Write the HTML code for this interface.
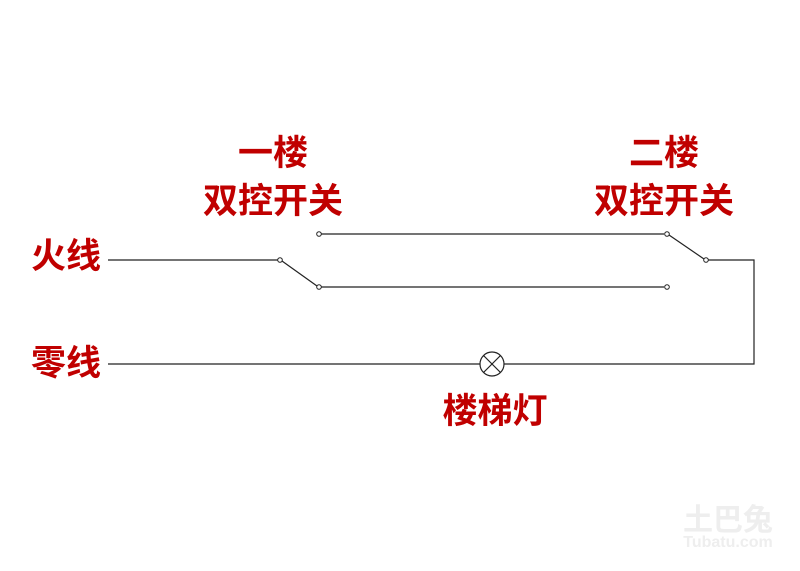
<!DOCTYPE html>
<html><head><meta charset="utf-8"><style>
body{margin:0;background:#fff}
svg text{font-family:"Liberation Sans","Noto Sans CJK SC",sans-serif;fill:#c00000;font-weight:bold;font-size:35px}
</style></head><body>
<svg width="800" height="566" xmlns="http://www.w3.org/2000/svg">
<g stroke="#222" stroke-width="1.2" fill="none">
<line x1="108" y1="260" x2="278" y2="260"/>
<line x1="282" y1="261" x2="317" y2="286"/>
<line x1="321" y1="234" x2="664" y2="234"/>
<line x1="321" y1="287" x2="664" y2="287"/>
<line x1="669" y1="235" x2="704" y2="259"/>
<polyline points="708,260 754,260 754,364 504,364"/>
<line x1="108" y1="364" x2="480" y2="364"/>
<circle cx="492" cy="364" r="12"/>
<line x1="483.5" y1="355.5" x2="500.5" y2="372.5"/>
<line x1="500.5" y1="355.5" x2="483.5" y2="372.5"/>
</g>
<g stroke="#222" stroke-width="1" fill="#fff">
<circle cx="280" cy="260" r="2.3"/><circle cx="319" cy="287" r="2.3"/><circle cx="319" cy="234" r="2.3"/>
<circle cx="667" cy="234" r="2.3"/><circle cx="706" cy="260" r="2.3"/><circle cx="667" cy="287" r="2.3"/>
</g>
<text x="273" y="165" text-anchor="middle">一楼</text>
<text x="273" y="213" text-anchor="middle">双控开关</text>
<text x="664" y="165" text-anchor="middle">二楼</text>
<text x="664" y="213" text-anchor="middle">双控开关</text>
<text x="66" y="268" text-anchor="middle">火线</text>
<text x="66" y="375" text-anchor="middle">零线</text>
<text x="495" y="423" text-anchor="middle">楼梯灯</text>
<text x="728" y="530" text-anchor="middle" style="fill:#eee;font-size:30px">土巴兔</text>
<text x="728" y="547" text-anchor="middle" style="fill:#eee;font-size:16px">Tubatu.com</text>
</svg>
</body></html>
